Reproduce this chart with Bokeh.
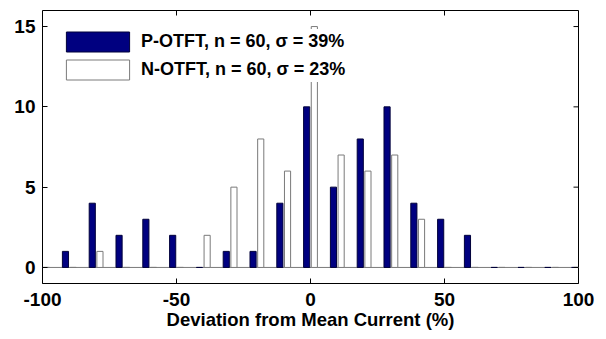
import math
from bokeh.plotting import figure
from bokeh.models import Range1d, FixedTicker, Span, Legend, LegendItem
from bokeh.embed import file_html
from bokeh.resources import INLINE

# Histogram bins (% deviation from mean current) and counts
bins = [-100, -90, -80, -70, -60, -50, -40, -30, -20, -10, 0,
        10, 20, 30, 40, 50, 60, 70, 80, 90, 100]
p_counts = [0, 1, 4, 2, 3, 2, 0, 1, 1, 4, 10, 5, 8, 10, 4, 3, 2, 0, 0, 0, 0]
n_counts = [0, 0, 1, 0, 0, 0, 2, 5, 8, 6, 15, 7, 6, 7, 3, 0, 0, 0, 0, 0, 0]
x_ticks = [-100, -50, 0, 50, 100]
x_tick_labels = ["-100", "-50", "0", "50", "100"]
y_ticks = [0, 5, 10, 15]
y_tick_labels = ["0", "5", "10", "15"]
p_label = "P-OTFT, n = 60, σ = 39%"
n_label = "N-OTFT, n = 60, σ = 23%"
x_title = "Deviation from Mean Current (%)"

FONT = "Liberation Sans"
NAVY = "#000080"
GRAY = "#7a7a7a"
XMIN, XMAX, YMIN, YMAX = -100, 100, -1, 16

p = figure(width=606, height=339, output_backend="svg", toolbar_location=None,
           x_range=Range1d(XMIN, XMAX), y_range=Range1d(YMIN, YMAX),
           min_border_left=42, min_border_right=28, min_border_top=10, min_border_bottom=56)
p.grid.visible = False
p.outline_line_color = "black"
p.outline_line_width = 1

spacing = 10.0
offset = 0.143 * spacing
bw = 0.229 * spacing
px = [b - offset for b in bins]
nx = [b + offset for b in bins]

base = Span(location=0, dimension="width", line_color=GRAY, line_width=1, level="underlay")
p.add_layout(base)

rp = p.vbar(x=px, top=p_counts, bottom=0, width=bw, fill_color=NAVY, line_color="#00003a", line_width=1)
rn = p.vbar(x=nx, top=n_counts, bottom=0, width=bw, fill_color="white", line_color=GRAY, line_width=1)

# mirrored inward ticks on top and right edges
p.ray(x=x_ticks, y=[YMAX] * len(x_ticks), length=5, length_units="screen",
      angle=-math.pi / 2, line_color="black", line_width=1)
p.ray(x=[XMAX] * len(y_ticks), y=y_ticks, length=5, length_units="screen",
      angle=math.pi, line_color="black", line_width=1)

for ax in (p.xaxis[0], p.yaxis[0]):
    ax.axis_line_color = None
    ax.major_tick_in = 5
    ax.major_tick_out = 0
    ax.minor_tick_line_color = None
    ax.major_tick_line_color = "black"
    ax.major_label_text_font = FONT
    ax.major_label_text_font_style = "bold"
    ax.major_label_text_font_size = "19px"
    ax.major_label_text_color = "black"
    ax.major_label_text_line_height = 1.0

p.xaxis.ticker = FixedTicker(ticks=x_ticks)
p.yaxis.ticker = FixedTicker(ticks=y_ticks)
p.xaxis.major_label_overrides = dict(zip(x_ticks, x_tick_labels))
p.yaxis.major_label_overrides = dict(zip(y_ticks, y_tick_labels))
p.xaxis.major_label_standoff = 9
p.yaxis.major_label_standoff = 7
p.xaxis.axis_label = x_title
p.xaxis.axis_label_text_font = FONT
p.xaxis.axis_label_text_font_style = "bold"
p.xaxis.axis_label_text_font_size = "18.5px"
p.xaxis.axis_label_text_color = "black"
p.xaxis.axis_label_text_line_height = 1.0
p.xaxis.axis_label_standoff = 0

legend = Legend(items=[LegendItem(label=p_label, renderers=[rp]),
                       LegendItem(label=n_label, renderers=[rn])],
                location=(16, 201), level="overlay")
legend.glyph_width = 79
legend.glyph_height = 25
legend.label_height = 25
legend.label_width = 215
legend.label_standoff = 4
legend.spacing = 3
legend.padding = 10
legend.margin = 0
legend.border_line_color = None
legend.background_fill_color = "white"
legend.background_fill_alpha = 1.0
legend.label_text_font = FONT
legend.label_text_font_style = "bold"
legend.label_text_font_size = "18px"
legend.label_text_color = "black"
p.add_layout(legend, "center")

open("out.html", "w").write(file_html(p, INLINE))
